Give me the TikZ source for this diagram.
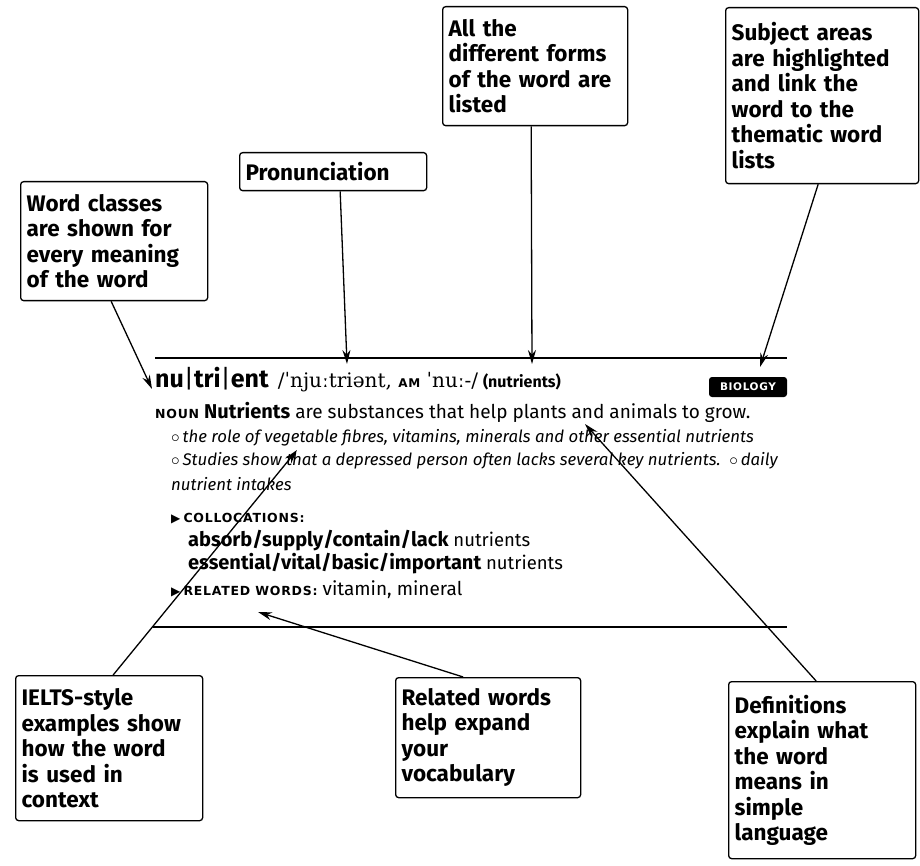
\documentclass[tikz,border=0pt]{standalone}
\usepackage{fontspec}
\setmainfont{Fira Sans}
\newfontfamily\ipafont{DejaVu Serif}
\newfontfamily\symfont{DejaVu Sans}
\newfontfamily\capsfont[LetterSpace=6]{DejaVu Sans Bold}
\usepackage{tikz}
\usetikzlibrary{arrows.meta,positioning}

\begin{document}
\begin{tikzpicture}[x=1pt,y=-1pt,
  callout/.style={draw,line width=1.3pt,rounded corners=3pt,anchor=north west,
    align=left,inner sep=6pt,font=\fontsize{22.5}{25.5}\selectfont\bfseries},
  pointer/.style={line width=1.3pt,-{Stealth[length=14pt,width=8pt]}},
  entry/.style={anchor=base west,inner sep=0pt,font=\fontsize{18.5}{21}\selectfont},
  example/.style={entry,font=\fontsize{16.8}{20}\selectfont\itshape},
  rule/.style={line width=1.5pt}]
\useasboundingbox (0,0) rectangle (920,866);

% callouts
\node[callout,text width=175pt,minimum width=187pt,minimum height=119pt] (classes) at (20,181)
  {Word classes\\are shown for\\every meaning\\of the word};
\node[callout,text width=175pt,minimum width=187pt,minimum height=38pt] (pron) at (239,152)
  {Pronunciation};
\node[callout,text width=173pt,minimum width=185pt,minimum height=119pt] (forms) at (442,6)
  {All the\\different forms\\of the word are\\listed};
\node[callout,text width=181pt,minimum width=193pt,minimum height=176pt] (subject) at (725,7)
  {Subject areas\\are highlighted\\and link the\\word to the\\thematic word\\lists};
\node[callout,text width=175pt,minimum width=187pt,minimum height=145pt] (ielts) at (15,675)
  {IELTS-style\\examples show\\how the word\\is used in\\context};
\node[callout,text width=173pt,minimum width=185pt,minimum height=120pt] (related) at (395,677)
  {Related words\\help expand\\your\\vocabulary};
\node[callout,text width=175pt,minimum width=187pt,minimum height=177pt] (defs) at (728,681)
  {Definitions\\explain what\\the word\\means in\\simple\\language};

% dictionary entry
\draw[rule] (155,358) -- (787,358);
\draw[rule] (153,627) -- (787,627);
\node[entry] (head) at (155,387)
  {{\fontsize{25}{27}\selectfont\bfseries nu{\fontseries{m}\selectfont|}tri{\fontseries{m}\selectfont|}ent}\enspace
   {\ipafont\fontsize{20}{22}\selectfont /ˈnjuːtriənt, {\capsfont\fontsize{12}{14}\selectfont AM} ˈnuː-/}\
   {\fontsize{16}{18}\selectfont\bfseries (nutrients)}};
\node[fill=black,rounded corners=3pt,minimum width=78pt,minimum height=20pt,inner sep=0pt,
  text=white,font=\capsfont\fontsize{10.5}{12}\selectfont] (subj) at (748,387) {BIOLOGY};
\node[entry,font=\fontsize{19}{22}\selectfont] (sense) at (155,418)
  {{\capsfont\fontsize{12.5}{15}\selectfont NOUN} {\fontsize{20}{22}\selectfont\bfseries Nutrients} are substances that help plants and animals to grow.};
\node[example] (ex1) at (171,442)
  {{\upshape$\circ$}\,the role of vegetable fibres, vitamins, minerals and other essential nutrients};
\node[example] (ex2) at (171,465)
  {{\upshape$\circ$}\,Studies show that a depressed person often lacks several key nutrients.\ \ {\upshape$\circ$}\,daily};
\node[example] (ex3) at (171,490) {nutrient intakes};
\node[entry] (coll) at (171,522)
  {{\symfont\fontsize{12}{14}\selectfont ▶}\,{\capsfont\fontsize{12.5}{15}\selectfont COLLOCATIONS:}};
\node[entry] (coll1) at (188,546) {{\fontsize{20}{22}\selectfont\bfseries absorb/supply/contain/lack} nutrients};
\node[entry] (coll2) at (188,569) {{\fontsize{20}{22}\selectfont\bfseries essential/vital/basic/important} nutrients};
\node[entry,font=\fontsize{19}{22}\selectfont] (rel) at (171,595)
  {{\symfont\fontsize{12}{14}\selectfont ▶}\,{\capsfont\fontsize{12.5}{15}\selectfont RELATED WORDS:} vitamin, mineral};

% pointer tips
\coordinate (tclasses) at (152,389);
\coordinate (tpron) at (347,364);
\coordinate (tforms) at (532,364);
\coordinate (tsubject) at (760,367);
\coordinate (tielts) at (297,450);
\coordinate (trelated) at (258,612);
\coordinate (tdefs) at (585,424);

\draw[pointer] ([xshift=-3pt]classes.south) -- (tclasses);
\draw[pointer] ([xshift=7pt]pron.south) -- (tpron);
\draw[pointer] ([xshift=-4pt]forms.south) -- (tforms);
\draw[pointer] ([xshift=-4pt]subject.south) -- (tsubject);
\draw[pointer] ([xshift=4pt]ielts.north) -- (tielts);
\draw[pointer] ([xshift=-25pt]related.north) -- (trelated);
\draw[pointer] ([xshift=-6pt]defs.north) -- (tdefs);
\end{tikzpicture}
\end{document}
